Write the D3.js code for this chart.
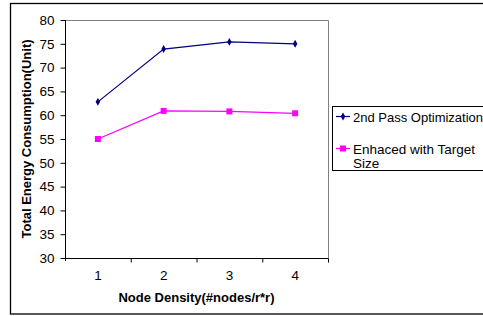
<!DOCTYPE html>
<html>
<head>
<meta charset="utf-8">
<script src="https://cdn.jsdelivr.net/npm/d3@7"></script>
<style>
body{margin:0;background:#fff;}
text{font-family:"Liberation Sans",Arial,sans-serif;}
</style>
</head>
<body>
<div class="chart"></div>
<script>
// data
var categories=["1","2","3","4"];
var pass2=[62.8,73.9,75.4,75.0];
var enhanced=[55.0,60.9,60.8,60.4];
var yTicks=[30,35,40,45,50,55,60,65,70,75,80];
var seriesNames=["2nd Pass Optimization","Enhaced with Target Size"];

var width=483,height=316;
var pLeft=65,pTop=20,pRight=328,pBottom=258;

var svg=d3.select('div.chart').append('svg')
		.attr('width',width)
		.attr('height',height);

// outer frame
svg.append('rect')
	.attr('x',10.5).attr('y',3.5)
	.attr('width',490).attr('height',310.5)
	.attr('fill','none').attr('stroke','#000').attr('stroke-width',1.3);

var xScale=d3.scaleBand().domain(categories).range([pLeft,pRight]);
var yScale=d3.scaleLinear().domain([30,80]).range([pBottom,pTop]);

// plot area border (grey)
svg.append('path')
	.attr('d','M'+pLeft+','+(pTop+0.5)+'H'+(pRight+0.5)+'V'+pBottom)
	.attr('fill','none').attr('stroke','#808080').attr('stroke-width',1);

// y axis
var yAxis=svg.append('g')
	.attr('transform','translate('+(pLeft+0.5)+',0)')
	.call(d3.axisLeft(yScale).tickValues(yTicks).tickSize(5).tickPadding(6));
yAxis.select('.domain').attr('d','M0,'+(pTop)+'V'+(pBottom+3));
yAxis.selectAll('text').attr('font-size','13.5px').attr('font-family','"Liberation Sans",Arial,sans-serif').attr('fill','#000');

// x axis, ticks at band edges
var xAxis=svg.append('g')
	.attr('transform','translate(0,'+(pBottom+0.5)+')')
	.call(d3.axisBottom(xScale).tickSize(0).tickPadding(12));
xAxis.select('.domain').attr('d','M'+pLeft+',0H'+(pRight+0.5));
xAxis.selectAll('text').attr('font-size','13.5px').attr('font-family','"Liberation Sans",Arial,sans-serif').attr('fill','#000');
xAxis.selectAll('line.edge')
	.data(categories.slice(1).concat(['end']))
	.enter().append('line')
	.attr('class','edge')
	.attr('x1',function(d){return d=='end'?pRight+0.5:xScale(d)+0.5;})
	.attr('x2',function(d){return d=='end'?pRight+0.5:xScale(d)+0.5;})
	.attr('y1',0).attr('y2',4)
	.attr('stroke','#000');

// axis titles
svg.append('text')
	.attr('x',(pLeft+pRight)/2).attr('y',302)
	.attr('text-anchor','middle')
	.attr('font-size','13px').attr('font-weight','bold')
	.text('Node Density(#nodes/r*r)');
svg.append('text')
	.attr('transform','translate(31,139) rotate(-90)')
	.attr('text-anchor','middle')
	.attr('font-size','13px').attr('font-weight','bold')
	.text('Total Energy Consumption(Unit)');

var line=d3.line()
	.x(function(d,i){return xScale(categories[i])+xScale.bandwidth()/2;})
	.y(function(d){return yScale(d);});

// series 1: navy with diamonds
svg.append('path').datum(pass2)
	.attr('d',line).attr('fill','none').attr('stroke','#000080').attr('stroke-width',1.2);
svg.selectAll('path.dia').data(pass2).enter().append('path')
	.attr('class','dia')
	.attr('d',d3.symbol().type(d3.symbolDiamond).size(18))
	.attr('transform',function(d,i){return 'translate('+(xScale(categories[i])+xScale.bandwidth()/2)+','+yScale(d)+')';})
	.attr('fill','#000080');

// series 2: magenta with squares
svg.append('path').datum(enhanced)
	.attr('d',line).attr('fill','none').attr('stroke','#ff00ff').attr('stroke-width',1.2);
svg.selectAll('rect.sq').data(enhanced).enter().append('rect')
	.attr('class','sq')
	.attr('x',function(d,i){return xScale(categories[i])+xScale.bandwidth()/2-3;})
	.attr('y',function(d){return yScale(d)-3;})
	.attr('width',6).attr('height',6)
	.attr('fill','#ff00ff');

// legend
var lg=svg.append('g');
lg.append('rect')
	.attr('x',332.5).attr('y',106.5)
	.attr('width',170).attr('height',64)
	.attr('fill','#fff').attr('stroke','#000').attr('stroke-width',1);
lg.append('line').attr('x1',336).attr('x2',350).attr('y1',116.5).attr('y2',116.5)
	.attr('stroke','#000080').attr('stroke-width',1.2);
lg.append('path').attr('d',d3.symbol().type(d3.symbolDiamond).size(18))
	.attr('transform','translate(343,116.5)').attr('fill','#000080');
lg.append('text').attr('x',353).attr('y',121.5).attr('font-size','13px').text(seriesNames[0]);
lg.append('line').attr('x1',336).attr('x2',350).attr('y1',148.5).attr('y2',148.5)
	.attr('stroke','#ff00ff').attr('stroke-width',1.2);
lg.append('rect').attr('x',340).attr('y',145.5).attr('width',6).attr('height',6).attr('fill','#ff00ff');
lg.append('text').attr('x',353).attr('y',153.5).attr('font-size','13.5px').text('Enhaced with Target');
lg.append('text').attr('x',353).attr('y',167.5).attr('font-size','13.5px').text('Size');
</script>
</body>
</html>
